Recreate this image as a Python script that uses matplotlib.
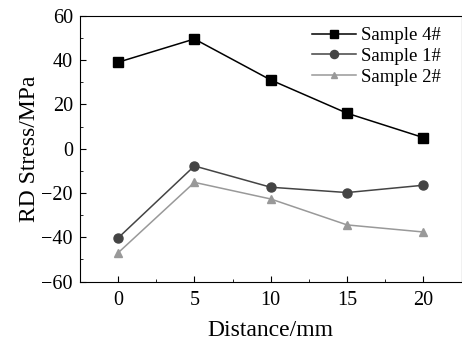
import numpy as np
import matplotlib
matplotlib.use("Agg")
import matplotlib.pyplot as plt
from matplotlib.ticker import MultipleLocator

plt.rcParams['font.family'] = ['Liberation Serif', 'DejaVu Serif']
plt.rcParams['mathtext.fontset'] = 'stix'

# data
distance = [0, 5, 10, 15, 20]
sample4 = [39, 49.5, 31, 16, 5]
sample1 = [-40.3, -7.8, -17.4, -19.8, -16.5]
sample2 = [-47, -15.2, -22.7, -34.4, -37.6]

fig = plt.figure(figsize=(4.62, 3.49), dpi=100)
ax = fig.add_axes([0.173, 0.193, 0.826, 0.762])

ax.plot(distance, sample4, color='black', marker='s', markersize=6.5, lw=1.1, label='Sample 4#')
ax.plot(distance, sample1, color='#444444', marker='o', markersize=6.5, lw=1.1, label='Sample 1#')
ax.plot(distance, sample2, color='#999999', marker='^', markersize=5.5, lw=1.1, label='Sample 2#')

ax.set_xlim(-2.5, 22.5)
ax.set_ylim(-60, 60)
ax.xaxis.set_major_locator(MultipleLocator(5))
ax.xaxis.set_minor_locator(MultipleLocator(2.5))
ax.yaxis.set_major_locator(MultipleLocator(20))
ax.yaxis.set_minor_locator(MultipleLocator(10))
ax.tick_params(which='both', direction='in', labelsize=14.5)
ax.tick_params(which='major', length=4)
ax.tick_params(which='minor', length=2.5)
ax.tick_params(axis='x', pad=7)
ax.tick_params(axis='y', pad=5)

ax.set_xlabel('Distance/mm', fontsize=17, labelpad=7)
ax.set_ylabel('RD Stress/MPa', fontsize=17, labelpad=1)

ax.legend(loc='upper right', bbox_to_anchor=(0.975, 1.0), frameon=False,
          fontsize=13.5, handlelength=2.35, handletextpad=0.25,
          labelspacing=0.2, borderaxespad=0.3, borderpad=0.3, markerscale=0.9)

fig.savefig('out.png', dpi=100)
